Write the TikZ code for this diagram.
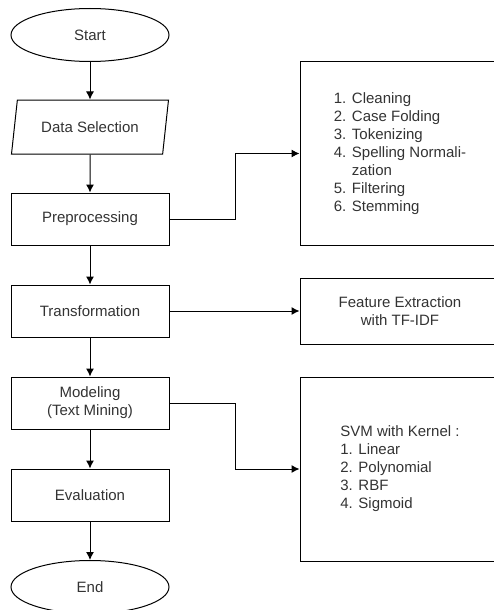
\documentclass[tikz,border=0pt]{standalone}
\usepackage{fontspec}
\setmainfont{Liberation Sans}
\usepackage{xcolor}
\usetikzlibrary{arrows.meta,positioning,shapes.geometric}
\definecolor{labelgray}{RGB}{51,51,51}

\begin{document}
\begin{tikzpicture}[x=1pt,y=-1pt,line width=1pt,
  flownode/.style={draw,minimum width=158pt,minimum height=52pt,align=center,inner sep=0pt,text=labelgray,font=\fontsize{15}{18}\selectfont},
  terminal/.style={draw,ellipse,minimum width=158pt,minimum height=53pt,inner sep=0pt,text=labelgray,font=\fontsize{15}{18}\selectfont},
  dataio/.style={draw,trapezium,trapezium left angle=62,trapezium right angle=118,minimum width=157pt,minimum height=54pt,inner sep=0pt,trapezium stretches body,text=labelgray,font=\fontsize{15}{18}\selectfont},
  notebox/.style={draw,minimum width=200pt,align=left,inner sep=0pt,text=labelgray,font=\fontsize{15}{18}\selectfont},
  arrow/.style={-{Latex[length=8pt,width=8pt]}}
]
\useasboundingbox (0,0) rectangle (494,610);
\clip (0,0) rectangle (494,610);

\node[terminal] (start) at (90, 35) {Start};
\node[dataio] (select) at (90, 127) {Data Selection};
\node[flownode] (prep) at (90, 219) {Preprocessing};
\node[flownode] (trans) at (90, 311) {Transformation};
\node[flownode] (model) at (90, 403) {Modeling\\(Text Mining)};
\node[flownode] (eval) at (90, 495) {Evaluation};
\node[terminal] (end) at (90, 587) {End};

\node[notebox,minimum height=183pt] (steps) at (400, 153.5) {1. Cleaning\\2. Case Folding\\3. Tokenizing\\4. Spelling Normali-\\\phantom{4. }zation\\5. Filtering\\6. Stemming};
\node[notebox,minimum height=66pt,align=center] (feature) at (400, 311) {Feature Extraction\\with TF-IDF};
\node[notebox,minimum height=184pt] (svm) at (400, 469) {SVM with Kernel :\\1. Linear\\2. Polynomial\\3. RBF\\4. Sigmoid};

\draw[arrow] (start) -- (select);
\draw[arrow] (select) -- (prep);
\draw[arrow] (prep) -- (trans);
\draw[arrow] (trans) -- (model);
\draw[arrow] (model) -- (eval);
\draw[arrow] (eval) -- (end);

\draw[arrow] (prep.east) -- ++(66,0) |- (steps.west);
\draw[arrow] (trans) -- (feature);
\draw[arrow] (model.east) -- ++(66,0) |- (svm.west);
\end{tikzpicture}
\end{document}
